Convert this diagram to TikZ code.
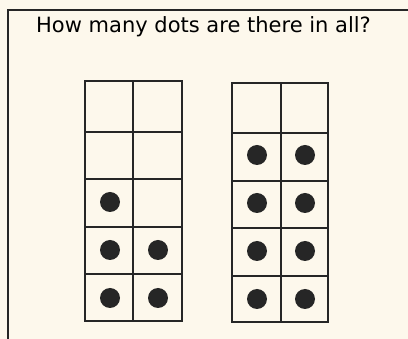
\documentclass[tikz,border=0pt]{standalone}
\usepackage{fontspec}
\setmainfont{DejaVu Sans}
\usepackage{tikz}
\definecolor{paper}{HTML}{FDF8EC}

\begin{document}
\begin{tikzpicture}[x=1pt, y=-1pt,
        frame/.style={draw=black!85, line width=2pt},
        grid/.style={draw=black!85, line width=1.8pt},
        dot/.style={circle, fill=black!85, minimum size=20pt, inner sep=0pt},
        title/.style={font=\fontsize{21}{25}\selectfont, anchor=base west, inner sep=0pt}
    ]
    \fill[paper] (0,0) rectangle (408,339);
    \useasboundingbox (0,0) rectangle (408,339);

    % OUTER FRAME
    \draw[frame] (408,10) -- (8,10) -- (8,339);
    \node[title] (question) at (36,33) {How many dots are there in all?};

    % LEFT TEN FRAME
    \draw[grid] (85,81) rectangle (182,321);
    \draw[grid] (133,81) -- (133,321);
    \draw[grid] (85,132) -- (182,132);
    \draw[grid] (85,179) -- (182,179);
    \draw[grid] (85,227) -- (182,227);
    \draw[grid] (85,274) -- (182,274);

    \node[dot] (l31) at (110,202) {};
    \node[dot] (l41) at (110,250) {};
    \node[dot] (l42) at (158,250) {};
    \node[dot] (l51) at (110,298) {};
    \node[dot] (l52) at (158,298) {};

    % RIGHT TEN FRAME
    \draw[grid] (232,83) rectangle (328,322);
    \draw[grid] (281,83) -- (281,322);
    \draw[grid] (232,133) -- (328,133);
    \draw[grid] (232,181) -- (328,181);
    \draw[grid] (232,228) -- (328,228);
    \draw[grid] (232,276) -- (328,276);

    \node[dot] (r21) at (257,155) {};
    \node[dot] (r22) at (305,155) {};
    \node[dot] (r31) at (257,203) {};
    \node[dot] (r32) at (305,203) {};
    \node[dot] (r41) at (257,251) {};
    \node[dot] (r42) at (305,251) {};
    \node[dot] (r51) at (257,299) {};
    \node[dot] (r52) at (305,299) {};

\end{tikzpicture}
\end{document}
